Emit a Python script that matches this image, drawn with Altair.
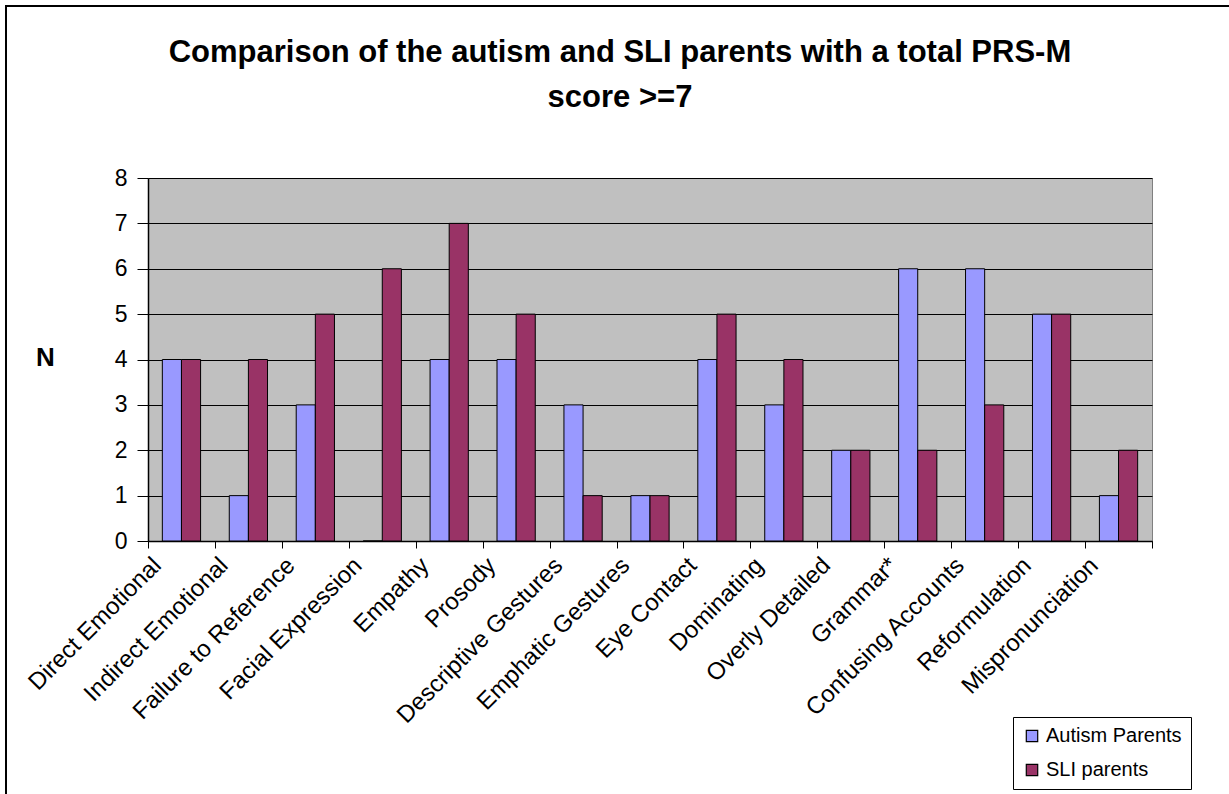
import altair as alt
import pandas as pd

# Behaviour categories rated on the PRS-M
categories = [
    "Direct Emotional", "Indirect Emotional", "Failure to Reference",
    "Facial Expression", "Empathy", "Prosody", "Descriptive Gestures",
    "Emphatic Gestures", "Eye Contact", "Dominating", "Overly Detailed",
    "Grammar*", "Confusing Accounts", "Reformulation", "Mispronunciation",
]
# Number of parents per group with the behaviour
autism_parents = [4, 1, 3, 0, 4, 4, 3, 1, 4, 3, 2, 6, 6, 5, 1]
sli_parents = [4, 4, 5, 6, 7, 5, 1, 1, 5, 4, 2, 2, 3, 5, 2]
groups = ["Autism Parents", "SLI parents"]
group_colors = ["#9999FF", "#993366"]
y_ticks = [0, 1, 2, 3, 4, 5, 6, 7, 8]

rows = []
for cat, a, s in zip(categories, autism_parents, sli_parents):
    rows.append({"category": cat, "group": groups[0], "n": a})
    rows.append({"category": cat, "group": groups[1], "n": s})
df = pd.DataFrame(rows)

FONT = "Liberation Sans"
W, H = 1004, 363

bars = alt.Chart(df).mark_bar(stroke="black", strokeWidth=1).encode(
    x=alt.X(
        "category:N",
        sort=categories,
        scale=alt.Scale(paddingInner=0, paddingOuter=0),
        axis=alt.Axis(
            title=None,
            labelAngle=-45,
            labelAlign="right",
            labelBaseline="top",
            labelFontSize=24,
            labelOffset=-33,
            labelPadding=5,
            labelLimit=400,
            labelOverlap=False,
            tickBand="extent",
            tickSize=7,
            domainWidth=1.5,
            grid=False,
        ),
    ),
    xOffset=alt.XOffset(
        "group:N",
        sort=groups,
        scale=alt.Scale(paddingInner=0, paddingOuter=0.75),
    ),
    y=alt.Y(
        "n:Q",
        scale=alt.Scale(domain=[0, 8], nice=False),
        axis=alt.Axis(
            title="N",
            titleAngle=0,
            titleFontSize=26,
            titleFontWeight="bold",
            titleAlign="center",
            titleBaseline="middle",
            titleX=-103,
            titleY=H / 2 - 2,
            values=y_ticks,
            format="d",
            labelFontSize=23,
            labelPadding=10,
            tickSize=11,
            domainWidth=1.5,
            grid=True,
            gridColor="black",
            gridWidth=1,
        ),
    ),
    color=alt.Color(
        "group:N",
        sort=groups,
        scale=alt.Scale(domain=groups, range=group_colors),
        legend=alt.Legend(
            title=None,
            orient="none",
            legendX=865,
            legendY=539,
            fillColor="white",
            strokeColor="black",
            padding=9,
            symbolType="square",
            symbolSize=130,
            symbolStrokeColor="black",
            symbolStrokeWidth=1.2,
            symbolOpacity=1,
            labelFontSize=20,
            labelFont=FONT,
            labelColor="black",
            rowPadding=14,
        ),
    ),
)

# Outer chart frame
frame = alt.Chart(pd.DataFrame({"f": [0]})).mark_rect(
    fillOpacity=0, stroke="black", strokeWidth=2
).encode(
    x=alt.value(-142), x2=alt.value(W + 200),
    y=alt.value(-172), y2=alt.value(H + 400),
)

chart = alt.layer(frame, bars).properties(
    width=W,
    height=H,
    autosize=alt.AutoSizeParams(type="none"),
    padding={"left": 148, "top": 178, "right": 77, "bottom": 253},
    background="white",
    title=alt.TitleParams(
        text=["Comparison of the autism and SLI parents with a total PRS-M", "score >=7"],
        font=FONT,
        fontSize=31,
        fontWeight="bold",
        color="black",
        anchor="middle",
        dx=-30,
        offset=-133,
        baseline="alphabetic",
        lineHeight=45,
    ),
).configure_view(
    fill="#C0C0C0", stroke="#808080", strokeWidth=1
).configure_axis(
    labelFont=FONT, titleFont=FONT, labelColor="black", titleColor="black",
    domainColor="black", tickColor="black", tickWidth=1,
)

chart.save("out.html", embed_options={"renderer": "svg", "actions": False})
